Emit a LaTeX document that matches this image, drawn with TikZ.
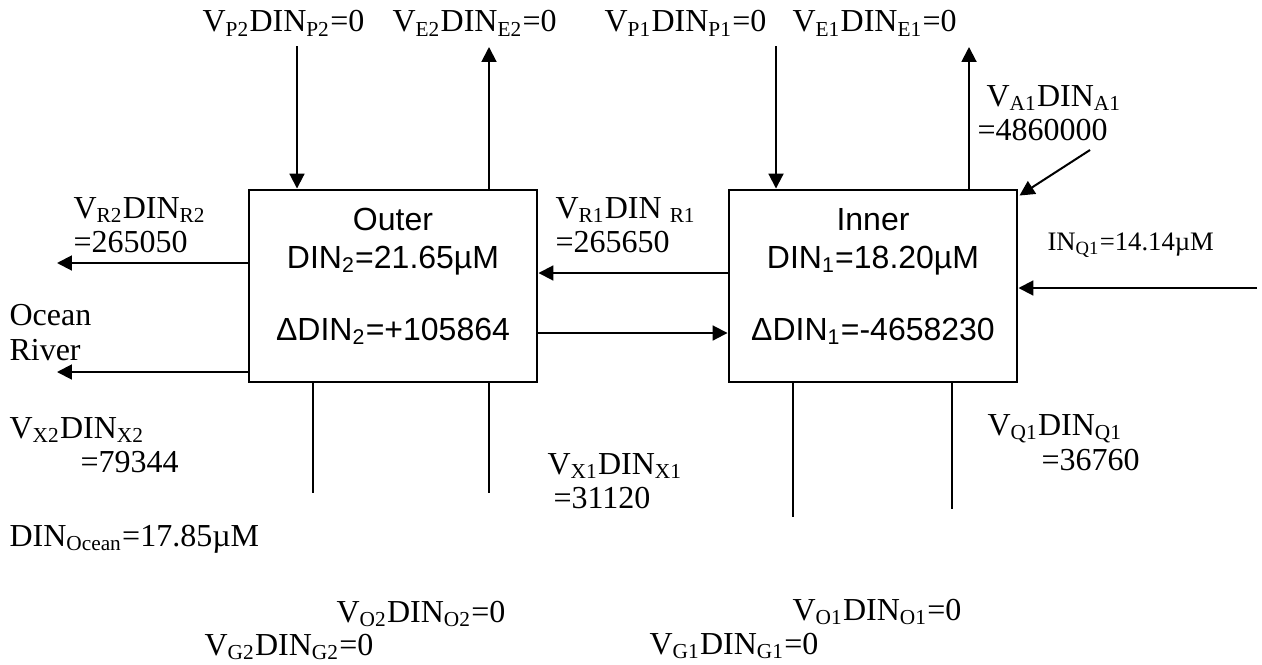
\documentclass[tikz,border=0pt]{standalone}
\usepackage{fontspec}
\setmainfont{Liberation Serif}
\newfontfamily\boxfont{Liberation Sans}
\usetikzlibrary{arrows.meta}
\begin{document}
\begin{tikzpicture}[x=0.375pt,y=-0.375pt,
  lbl/.style={anchor=base west,inner sep=0pt,font=\fontsize{12}{14}\selectfont},
  smalllbl/.style={anchor=base west,inner sep=0pt,font=\fontsize{10}{12}\selectfont},
  boxtxt/.style={anchor=base,inner sep=0pt,font=\boxfont\fontsize{12}{14}\selectfont},
  pool/.style={draw,line width=1.1pt,minimum width=108pt,minimum height=72pt,inner sep=0pt},
  arr/.style={line width=0.75pt,-{Triangle[length=5.6pt,width=5.6pt]}},
  ln/.style={line width=0.75pt}]
\useasboundingbox (0,0) rectangle (1262,664);
% boxes
\node[pool] (outer) at (393,286) {};
\node[pool] (inner) at (873,286) {};
\node[boxtxt] (outerT) at (393,230) {Outer};
\node[boxtxt] (outerD) at (393,268) {DIN\textsubscript{2}=21.65µM};
\node[boxtxt] (outerDD) at (393,340) {ΔDIN\textsubscript{2}=+105864};
\node[boxtxt] (innerT) at (873,230) {Inner};
\node[boxtxt] (innerD) at (873,268) {DIN\textsubscript{1}=18.20µM};
\node[boxtxt] (innerDD) at (873,340) {ΔDIN\textsubscript{1}=-4658230};
% top labels
\node[lbl] (lp2) at (202,32) {V\textsubscript{P2}DIN\textsubscript{P2}=0};
\node[lbl] (le2) at (392,32) {V\textsubscript{E2}DIN\textsubscript{E2}=0};
\node[lbl] (lp1) at (604,32) {V\textsubscript{P1}DIN\textsubscript{P1}=0};
\node[lbl] (le1) at (792,32) {V\textsubscript{E1}DIN\textsubscript{E1}=0};
\node[lbl] (la1) at (986,106) {V\textsubscript{A1}DIN\textsubscript{A1}};
\node[lbl] (la1v) at (977,140) {=4860000};
% side labels
\node[lbl] (lr2) at (73,218) {V\textsubscript{R2}DIN\textsubscript{R2}};
\node[lbl] (lr2v) at (73,252) {=265050};
\node[lbl] (lr1) at (555,218) {V\textsubscript{R1}DIN \textsubscript{R1}};
\node[lbl] (lr1v) at (555,252) {=265650};
\node[lbl] (locean) at (9,325) {Ocean};
\node[lbl] (lriver) at (9,360) {River};
\node[smalllbl] (linq) at (1047,250) {IN\textsubscript{Q1}=14.14µM};
% bottom labels
\node[lbl] (lx2) at (9,438) {V\textsubscript{X2}DIN\textsubscript{X2}};
\node[lbl] (lx2v) at (80,472) {=79344};
\node[lbl] (lx1) at (547,474) {V\textsubscript{X1}DIN\textsubscript{X1}};
\node[lbl] (lx1v) at (553,508) {=31120};
\node[lbl] (lq1) at (987,435) {V\textsubscript{Q1}DIN\textsubscript{Q1}};
\node[lbl] (lq1v) at (1041,470) {=36760};
\node[lbl] (locn) at (9,546) {DIN\textsubscript{Ocean}=17.85µM};
\node[lbl] (lo2) at (336,622) {V\textsubscript{O2}DIN\textsubscript{O2}=0};
\node[lbl] (lg2) at (204,655) {V\textsubscript{G2}DIN\textsubscript{G2}=0};
\node[lbl] (lo1) at (792,620) {V\textsubscript{O1}DIN\textsubscript{O1}=0};
\node[lbl] (lg1) at (649,654) {V\textsubscript{G1}DIN\textsubscript{G1}=0};
% vertical arrows at top
\coordinate (p2s) at (297,46);
\coordinate (e2e) at (489,47);
\coordinate (p1s) at (776,46);
\coordinate (e1e) at (969,47);
\draw[arr] (p2s) -- (p2s |- outer.north);
\draw[arr] (e2e |- outer.north) -- (e2e);
\draw[arr] (p1s) -- (p1s |- inner.north);
\draw[arr] (e1e |- inner.north) -- (e1e);
\coordinate (a1s) at (1090,150);
\draw[arr] (a1s) -- ([shift={(1,7)}]inner.north east);
% horizontal arrows
\coordinate (r2e) at (57,263);
\coordinate (rve) at (57,372);
\coordinate (r1y) at (633,273);
\coordinate (mxy) at (633,333);
\coordinate (qs) at (1257,288);
\draw[arr] (outer.west |- r2e) -- (r2e);
\draw[arr] (outer.west |- rve) -- (rve);
\draw[arr] (inner.west |- r1y) -- (outer.east |- r1y);
\draw[arr] (outer.east |- mxy) -- (inner.west |- mxy);
\draw[arr] (qs) -- (inner.east |- qs);
% bottom lines
\coordinate (x2b) at (313,493);
\coordinate (x1b) at (489,493);
\coordinate (o1b) at (793,517);
\coordinate (q1b) at (952,509);
\draw[ln] (outer.south -| x2b) -- (x2b);
\draw[ln] (outer.south -| x1b) -- (x1b);
\draw[ln] (inner.south -| o1b) -- (o1b);
\draw[ln] (inner.south -| q1b) -- (q1b);
\end{tikzpicture}
\end{document}
